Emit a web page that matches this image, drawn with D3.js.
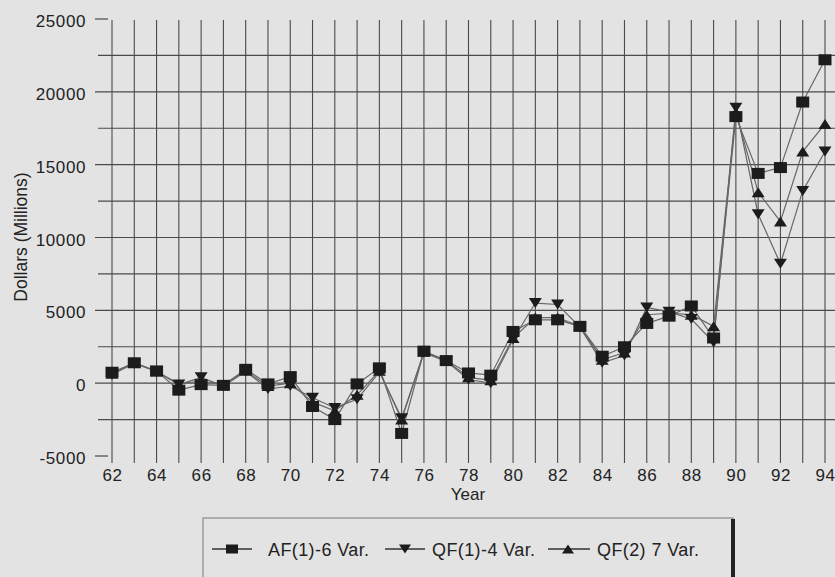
<!DOCTYPE html>
<html><head><meta charset="utf-8">
<script src="https://cdn.jsdelivr.net/npm/d3@7"></script>
<style>body{margin:0;background:#e3e3e3;} svg{display:block;font-family:"Liberation Sans",Arial,sans-serif;}</style>
</head><body><svg width="835" height="577"></svg>
<script>
// ---- data ----
const years = [62,63,64,65,66,67,68,69,70,71,72,73,74,75,76,77,78,79,80,81,82,83,84,85,86,87,88,89,90,91,92,93,94];
const af1  = [750,1400,840,-480,-100,-150,950,-50,450,-1600,-2500,-50,1050,-3450,2200,1550,700,550,3550,4350,4350,3900,1850,2500,4100,4600,5300,3100,18300,14400,14800,19300,22200];
const qf1  = [600,1350,800,-100,400,-200,800,-400,-200,-1000,-1700,-1100,750,-2400,2100,1500,250,0,3000,5500,5400,3850,1400,1900,5200,4900,4400,2800,18900,11600,8200,13200,15900];
const qf2  = [650,1400,800,-50,150,-100,850,-200,0,-1300,-1900,-800,850,-2500,2150,1550,400,200,3100,4500,4500,3900,1600,2100,4700,4800,4700,3900,18600,13100,11100,15900,17800];
const yTickLabels = [-5000,0,5000,10000,15000,20000,25000];
const yGrid = [-2500,0,2500,5000,7500,10000,12500,15000,17500,20000,22500];
const xTickLabels = [62,64,66,68,70,72,74,76,78,80,82,84,86,88,90,92,94];
const seriesNames = ["AF(1)-6 Var.","QF(1)-4 Var.","QF(2) 7 Var."];

const svg = d3.select("svg");
const x = d3.scaleLinear().domain([62,94]).range([112,825]);
const y = d3.scaleLinear().domain([-5000,25000]).range([456,19]);
const gridCol = "#4a4a4a";

// vertical grid
svg.append("g").selectAll("line").data(years).join("line")
  .attr("x1", d=>x(d)).attr("x2", d=>x(d)).attr("y1", 20).attr("y2", 463)
  .attr("stroke", gridCol).attr("stroke-width", 1.1);
// horizontal grid
svg.append("g").selectAll("line").data(yGrid).join("line")
  .attr("x1", d=> d%5000===0 ? 95 : 98).attr("x2", 835)
  .attr("y1", d=>y(d)).attr("y2", d=>y(d))
  .attr("stroke", gridCol).attr("stroke-width", 1.1);
// end dashes
svg.append("g").selectAll("line").data([-5000,25000]).join("line")
  .attr("x1", 95).attr("x2", 108).attr("y1", d=>y(d)).attr("y2", d=>y(d))
  .attr("stroke", gridCol).attr("stroke-width", 1.2);

// y axis labels
const ya = svg.append("g").attr("transform","translate(86,0)")
  .call(d3.axisLeft(y).tickValues(yTickLabels).tickSize(0).tickPadding(0).tickFormat(d=>String(d)));
ya.select(".domain").remove();
ya.selectAll("text").attr("font-size",17).attr("fill","#222").attr("dy","0.45em")
  .attr("font-family","Liberation Sans, Arial, sans-serif").style("letter-spacing","0.6px");

// x axis labels
const xa = svg.append("g").attr("transform","translate(0,469)")
  .call(d3.axisBottom(x).tickValues(xTickLabels).tickSize(0).tickPadding(0).tickFormat(d=>String(d)));
xa.select(".domain").remove();
xa.selectAll("text").attr("font-size",17).attr("fill","#222")
  .attr("font-family","Liberation Sans, Arial, sans-serif").style("letter-spacing","0.6px");

// axis titles
svg.append("text").attr("x",468).attr("y",500).attr("text-anchor","middle")
  .attr("font-size",17).attr("fill","#222").text("Year");
svg.append("text").attr("transform","translate(27,237) rotate(-90)").attr("text-anchor","middle")
  .attr("font-size",17.5).attr("fill","#222").text("Dollars (Millions)");

// series lines
const line = d3.line().x((d,i)=>x(years[i])).y(d=>y(d));
[qf2,qf1,af1].forEach(s=>{
  svg.append("path").datum(s).attr("d",line).attr("fill","none")
    .attr("stroke","#666").attr("stroke-width",1.2);
});

const markCol = "#1c1c1c";
const triDown = "M-6.5,-5L6.5,-5L0,5Z";
const triUp = "M-6.5,5L6.5,5L0,-5Z";
function drawTri(s, p){
  svg.append("g").selectAll("path").data(s).join("path")
    .attr("transform",(d,i)=>`translate(${x(years[i])},${y(d)})`)
    .attr("d",p).attr("fill",markCol);
}
drawTri(qf2, triUp);
drawTri(qf1, triDown);
svg.append("g").selectAll("rect").data(af1).join("rect")
  .attr("x",(d,i)=>x(years[i])-6.5).attr("y",d=>y(d)-5.5)
  .attr("width",13).attr("height",11).attr("fill",markCol);

// legend
const lg = svg.append("g");
lg.append("rect").attr("x",203).attr("y",518).attr("width",530).attr("height",70)
  .attr("fill","none").attr("stroke","#8a8a8a").attr("stroke-width",1.2);
lg.append("line").attr("x1",733).attr("x2",733).attr("y1",519).attr("y2",577)
  .attr("stroke","#222").attr("stroke-width",4);
const items = [
  {lx1:212,lx2:252,mx:232,tx:268,shape:"sq"},
  {lx1:385,lx2:425,mx:405,tx:432,shape:"down"},
  {lx1:548,lx2:590,mx:568,tx:597,shape:"up"}
];
const ly = 549;
items.forEach((it,k)=>{
  lg.append("line").attr("x1",it.lx1).attr("x2",it.lx2).attr("y1",ly).attr("y2",ly)
    .attr("stroke","#333").attr("stroke-width",1.3);
  if(it.shape==="sq") lg.append("rect").attr("x",it.mx-6).attr("y",ly-4.5).attr("width",12).attr("height",9).attr("fill",markCol);
  else lg.append("path").attr("transform",`translate(${it.mx},${ly})`).attr("d",it.shape==="up"?"M-6,4.5L6,4.5L0,-4.5Z":"M-6,-4.5L6,-4.5L0,4.5Z").attr("fill",markCol);
  lg.append("text").attr("x",it.tx).attr("y",ly+6.5).attr("font-size",18).attr("fill","#222")
    .style("letter-spacing","0.4px").text(seriesNames[k]);
});
</script></body></html>
